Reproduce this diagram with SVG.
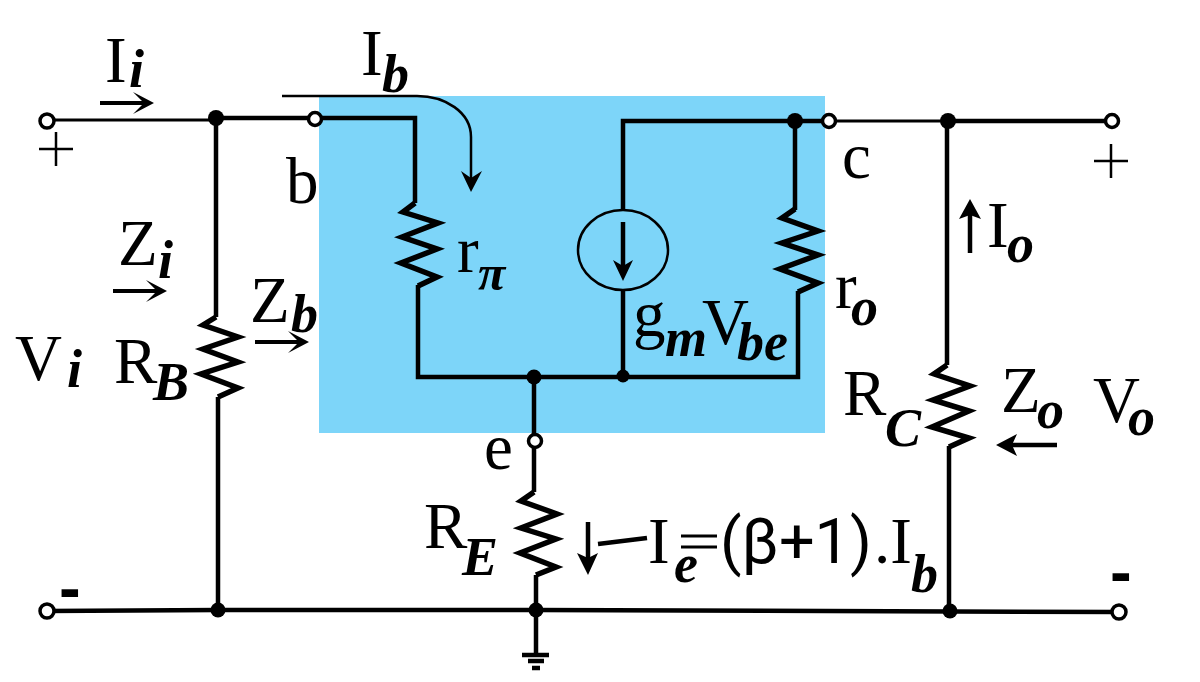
<svg xmlns="http://www.w3.org/2000/svg" width="1200" height="682" viewBox="0 0 1200 682">
<defs>
<path id="arrowR" d="M0 -2H42L33 -11L54 0L33 11L42 2H0Z"/>
<style>
text{font-family:"Liberation Serif","Times New Roman",serif;fill:#000;font-size:65px}
.sub{font-weight:bold;font-style:italic;font-size:54px}
.sans{font-family:Roboto,"Liberation Sans",Arial,sans-serif}
.bar{font-family:"Liberation Sans",Arial,sans-serif;font-weight:bold}
.w{fill:none;stroke:#000;stroke-width:4.5}
.t{fill:none;stroke:#000;stroke-width:3}
.r{fill:none;stroke:#000;stroke-width:5.5}
.j{fill:#000}
.o{fill:#fff;stroke:#000;stroke-width:3.5}
.p{fill:none;stroke:#000;stroke-width:2.5}
</style>
</defs>
<rect id="bjt-box" x="319" y="96" width="506" height="337" fill="#7dd5f9"/>
<g id="connectors">
<path class="t" d="M47 120H216"/>
<path class="w" d="M216 118H315M216 118V317"/>
<path class="w" d="M316 118H415V203"/>
<path class="w" d="M418 285V377H798V291"/>
<path class="w" d="M623 290V377"/>
<path class="w" d="M623 210V121H829M795 121V210"/>
<path class="t" d="M829 121H948"/>
<path class="w" d="M948 121H1112"/>
<path class="w" d="M947 121V365"/>
<path class="w" d="M949 446V611"/>
<path class="w" d="M218 397V610"/>
<path class="w" d="M47 611L218 610L536 610L1119 612"/>
<path class="w" d="M534 377V492"/>
<path class="w" d="M536 575V654"/>
</g>
<g id="resistor-rb"><path class="r" d="M216 317L203 325L238 337L203 349L238 362L201 374L238 388L218 397"/></g>
<g id="resistor-rpi"><path class="r" d="M415 203L403 212L438 223L402 237L437 249L401 263L437 277L418 286"/></g>
<g id="resistor-ro"><path class="r" d="M795 209L782 218L818 231L782 243L818 255L780 269L818 283L798 292"/></g>
<g id="resistor-rc"><path class="r" d="M947 365L934 374L970 386L933 400L969 411L932 427L969 438L949 447"/></g>
<g id="resistor-re"><path class="r" d="M534 492L521 501L557 514L521 528L556 539L520 553L556 567L536 575"/></g>
<g id="source"><ellipse class="p" cx="623" cy="250" rx="45" ry="40"/><path class="w" d="M623 222V266"/><path class="j" d="M613 260L623 281L633 260L623 266Z"/></g>
<g id="junctions">
<circle class="j" cx="216" cy="118" r="8"/><circle class="j" cx="795" cy="121" r="8"/><circle class="j" cx="948" cy="121" r="8"/>
<circle class="j" cx="534" cy="377" r="7.5"/><circle class="j" cx="623" cy="376" r="6.5"/>
<circle class="j" cx="218" cy="610" r="7.5"/><circle class="j" cx="536" cy="610" r="7.5"/><circle class="j" cx="950" cy="611" r="7.5"/>
</g>
<g id="terminals">
<circle class="o" cx="47" cy="121" r="7"/><circle class="o" cx="315" cy="119" r="6.5"/><circle class="o" cx="829" cy="121" r="6.5"/><circle class="o" cx="1112" cy="121" r="6.5"/>
<circle class="o" cx="535" cy="441" r="6.5"/><circle class="o" cx="47" cy="611" r="7"/><circle class="o" cx="1119" cy="612" r="7"/>
</g>
<g id="ground"><path class="w" d="M522 655H549"/><path class="w" d="M528 661H544"/><path class="w" d="M532 668H540"/></g>
<g id="arrows">
<use href="#arrowR" x="100" y="103"/>
<use href="#arrowR" x="113" y="291"/>
<use href="#arrowR" x="255" y="342"/>
<path class="p" d="M282 96H417C445 96 471 112 471 137V180"/><path class="j" d="M461 171L471 192L482 171L471 178Z"/>
<path class="w" d="M1057 445H1012"/><path class="j" d="M996 445L1017 434L1012 445L1017 456Z"/>
<path class="w" d="M970 253V212"/><path class="j" d="M959 219L970 199L981 219L970 215Z"/>
<path class="w" d="M588 522V560"/><path class="j" d="M577 553L588 575L598 553L588 558Z"/>
<path class="w" d="M598 544L647 538"/>
</g>
<g id="labels">
<text x="105" y="82">I<tspan class="sub" x="129" y="87">i</tspan></text>
<path class="p" d="M39 149H73M56 132V166"/>
<path class="p" d="M1094 161H1128M1111 144V178"/>
<text x="286" y="203">b</text><text x="842" y="178">c</text><text x="484" y="469">e</text>
<text x="118" y="265">Z<tspan class="sub" x="158" y="278">i</tspan></text>
<text x="250" y="322">Z<tspan class="sub" x="291" y="332">b</tspan></text>
<text x="361" y="75">I<tspan class="sub" x="382" y="92">b</tspan></text>
<text x="15" y="380">V<tspan class="sub" x="67" y="387">i</tspan></text>
<text x="114" y="383">R<tspan class="sub" x="153" y="400">B</tspan></text>
<text x="457" y="272">r<tspan class="sub" x="478" y="290" style="font-size:50px">π</tspan></text>
<text x="835" y="308">r<tspan class="sub" x="851" y="325">o</tspan></text>
<text x="633" y="336">g<tspan class="sub" x="665" y="356">m</tspan><tspan x="702" y="344">V</tspan><tspan class="sub" x="737" y="360">be</tspan></text>
<text x="987" y="247">I<tspan class="sub" x="1007" y="262">o</tspan></text>
<text x="843" y="415">R<tspan class="sub" x="885" y="446">C</tspan></text>
<text x="1001" y="412">Z<tspan class="sub" x="1037" y="428">o</tspan></text>
<text x="1093" y="422">V<tspan class="sub" x="1128" y="435">o</tspan></text>
<text x="424" y="548">R<tspan class="sub" x="462" y="575">E</tspan></text>
<text x="648" y="563">I<tspan class="sub" x="674" y="582">e</tspan></text>
<path class="t" d="M681 536H717M681 547H717"/>
<text class="sans" x="720" y="563" style="font-size:63px">(β+1)</text>
<text x="874" y="563">.I<tspan class="sub" x="911" y="592">b</tspan></text>
<text class="bar" x="59" y="610">-</text>
<text class="bar" x="1110" y="594">-</text>
</g>
</svg>
